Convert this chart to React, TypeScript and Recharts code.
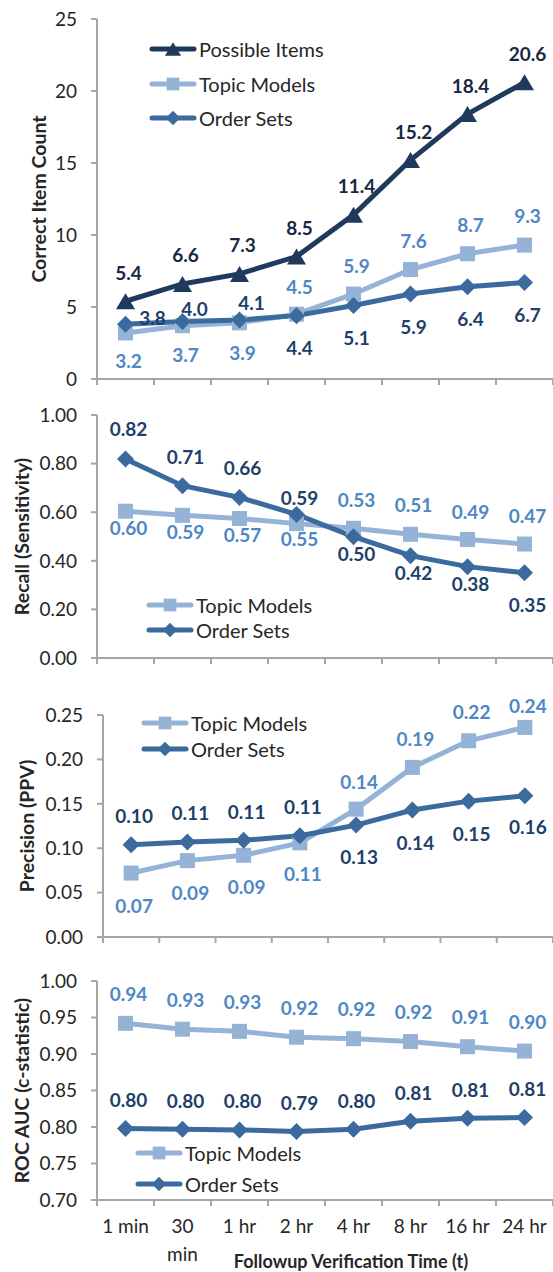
import React from 'react';
import { LineChart, Line, XAxis, YAxis, Legend, LabelList, Label } from 'recharts';

// followup verification windows
const times = ['1 min', '30 min', '1 hr', '2 hr', '4 hr', '8 hr', '16 hr', '24 hr'];

// correct item count
const possibleCount = [5.4, 6.6, 7.3, 8.5, 11.4, 15.2, 18.4, 20.6];
const topicCount = [3.2, 3.7, 3.9, 4.5, 5.9, 7.6, 8.7, 9.3];
const orderCount = [3.8, 4.0, 4.1, 4.4, 5.1, 5.9, 6.4, 6.7];

// recall (sensitivity)
const topicRecall = [0.604, 0.587, 0.574, 0.553, 0.534, 0.509, 0.488, 0.469];
const orderRecall = [0.819, 0.709, 0.661, 0.591, 0.499, 0.421, 0.376, 0.351];

// precision (PPV)
const topicPrecision = [0.072, 0.086, 0.092, 0.106, 0.144, 0.191, 0.221, 0.236];
const orderPrecision = [0.104, 0.107, 0.109, 0.114, 0.126, 0.143, 0.153, 0.159];

// ROC AUC (c-statistic)
const topicAuc = [0.942, 0.934, 0.931, 0.923, 0.921, 0.917, 0.91, 0.904];
const orderAuc = [0.798, 0.797, 0.796, 0.794, 0.797, 0.808, 0.812, 0.813];

const countTicks = [0, 5, 10, 15, 20, 25];
const recallTicks = [0, 0.2, 0.4, 0.6, 0.8, 1.0];
const precisionTicks = [0, 0.05, 0.1, 0.15, 0.2, 0.25];
const aucTicks = [0.7, 0.75, 0.8, 0.85, 0.9, 0.95, 1.0];

const FONT = 'Lato, "Open Sans", sans-serif';
const TEXT = '#262626';
const AXIS = '#A6A6A6';
const CHART_W = 553;

const SERIES: Record<string, any> = {
  possible: { name: 'Possible Items', color: '#1F3A5C', label: '#17293F', shape: 'triangle' },
  topic: { name: 'Topic Models', color: '#95B3D7', label: '#4F87C6', shape: 'square' },
  order: { name: 'Order Sets', color: '#3A6A9E', label: '#1E3F6A', shape: 'diamond' },
};

// label placement (dx, dy from the point), per panel and series
const flat = (v: number) => times.map(() => v);
const OFFSETS: Record<string, Record<string, { dx: number[]; dy: number[] }>> = {
  count: {
    possible: { dx: flat(3), dy: flat(-29) },
    topic: { dx: flat(3), dy: [28, 29, 30, -28, -29, -29, -29, -30] },
    order: { dx: [27, 12, 12, 3, 3, 3, 3, 3], dy: [-7, -13, -17, 32, 32, 32, 32, 32] },
  },
  recall: {
    topic: { dx: flat(3), dy: [16, 16, 16, 15, -29, -30, -28, -29] },
    order: { dx: flat(3), dy: [-30, -29, -30, -17, 17, 17, 17, 32] },
  },
  precision: {
    topic: { dx: flat(3), dy: [32, 32, 31, 31, -28, -29, -29, -22] },
    order: { dx: flat(3), dy: [-29, -29, -29, -29, 31, 32, 32, 31] },
  },
  auc: {
    topic: { dx: flat(3), dy: flat(-30) },
    order: { dx: flat(3), dy: flat(-29) },
  },
};

function drawShape(shape: string, cx: number, cy: number, color: string, s = 1, key?: any) {
  if (shape === 'triangle') {
    const w = 9.5 * s, h = 8 * s;
    return <path key={key} d={`M${cx},${cy - h}L${cx + w},${cy + h}L${cx - w},${cy + h}Z`} fill={color} />;
  }
  if (shape === 'square') {
    const h = 7.5 * s;
    return <rect key={key} x={cx - h} y={cy - h} width={2 * h} height={2 * h} fill={color} />;
  }
  const h = 8.5 * s;
  return <path key={key} d={`M${cx},${cy - h}L${cx + h},${cy}L${cx},${cy + h}L${cx - h},${cy}Z`} fill={color} />;
}

const markerFor = (shape: string, color: string) => (props: any) => {
  const { cx, cy, index } = props;
  if (cx == null || cy == null) return <g key={index} />;
  return drawShape(shape, cx, cy, color, 1, index);
};

const labelFor = (color: string, off: { dx: number[]; dy: number[] }, digits: number) => (props: any) => {
  const { x, y, value, index } = props;
  return (
    <text
      key={index}
      x={x + off.dx[index]}
      y={y + off.dy[index]}
      textAnchor="middle"
      dominantBaseline="central"
      fill={color}
      fontSize={19}
      fontWeight={700}
      fontFamily={FONT}
    >
      {Number(value).toFixed(digits)}
    </text>
  );
};

const legendFor = (rowH: number, keys: string[]) => (props: any) => {
  const payload = [...(props.payload || [])].sort(
    (a: any, b: any) => keys.indexOf(a.dataKey) - keys.indexOf(b.dataKey)
  );
  return (
    <div>
      {payload.map((e: any) => {
        const s = SERIES[e.dataKey];
        return (
          <div key={e.dataKey} style={{ height: rowH, display: 'flex', alignItems: 'center' }}>
            <svg width={48} height={20} style={{ display: 'block' }}>
              <line x1={3} y1={10} x2={45} y2={10} stroke={s.color} strokeWidth={5} strokeLinecap="round" />
              {drawShape(s.shape, 24, 10, s.color, 0.85)}
            </svg>
            <span style={{ fontSize: 20, color: TEXT, fontFamily: FONT, marginLeft: 2, whiteSpace: 'nowrap' }}>
              {s.name}
            </span>
          </div>
        );
      })}
    </div>
  );
};

const yTitle = (text: string, cx: number) => (props: any) => {
  const { viewBox } = props;
  const cy = viewBox.y + viewBox.height / 2;
  return (
    <text
      x={cx}
      y={cy}
      transform={`rotate(-90, ${cx}, ${cy})`}
      textAnchor="middle"
      dominantBaseline="central"
      fill={TEXT}
      fontSize={19.5}
      fontWeight={700}
      fontFamily={FONT}
    >
      {text}
    </text>
  );
};

const xTitle = (props: any) => {
  const { viewBox } = props;
  return (
    <text
      x={viewBox.x + viewBox.width / 2 + 26}
      y={viewBox.y + 68}
      textAnchor="middle"
      fill={TEXT}
      fontSize={18}
      fontWeight={700}
      fontFamily={FONT}
    >
      Followup Verification Time (t)
    </text>
  );
};

// split a category name over lines that fit in one band
let measureCtx: CanvasRenderingContext2D | null = null;
function wrapLabel(label: string, maxW: number): string[] {
  if (!measureCtx) measureCtx = document.createElement('canvas').getContext('2d');
  if (!measureCtx) return [label];
  measureCtx.font = `19px ${FONT}`;
  if (measureCtx.measureText(label).width <= maxW) return [label];
  return label.split(' ');
}

// category tick: tick marks sit on the band edges, the name under the band centre
const bandTick = (band: number, showTimes: boolean) => (props: any) => {
  const { x, y, payload, index } = props;
  const left = x - band / 2;
  const right = x + band / 2;
  const lines = showTimes ? wrapLabel(String(payload.value), 50) : [];
  return (
    <g>
      <line x1={left} y1={y} x2={left} y2={y + 6} stroke={AXIS} strokeWidth={2} />
      {index === times.length - 1 && <line x1={right} y1={y} x2={right} y2={y + 6} stroke={AXIS} strokeWidth={2} />}
      {lines.length > 0 && (
        <text x={x} y={y + 33} textAnchor="middle" fill={TEXT} fontSize={19} fontFamily={FONT}>
          {lines.map((l, i) => (
            <tspan key={i} x={x} dy={i === 0 ? 0 : 28}>
              {l}
            </tspan>
          ))}
        </text>
      )}
    </g>
  );
};

interface PanelProps {
  id: string;
  top: number;
  height: number;
  marginTop: number;
  marginBottom: number;
  axisWidth: number;
  rows: Record<string, number[]>;
  yTicks: number[];
  digits: number;
  tickDigits: number;
  title: string;
  titleX: number;
  legendTop: number;
  legendLeft: number;
  rowH: number;
  showTimes?: boolean;
  axisHeight: number;
}

function Panel(p: PanelProps) {
  const keys = Object.keys(p.rows);
  const data = times.map((t, i) => {
    const row: Record<string, any> = { time: t };
    keys.forEach((k) => (row[k] = p.rows[k][i]));
    return row;
  });
  const band = (CHART_W - p.axisWidth) / times.length;
  return (
    <div style={{ position: 'absolute', left: 0, top: p.top }}>
      <LineChart
        width={CHART_W}
        height={p.height}
        data={data}
        margin={{ top: p.marginTop, right: 0, left: 0, bottom: p.marginBottom }}
      >
        <XAxis
          dataKey="time"
          scale="band"
          height={p.axisHeight}
          stroke={AXIS}
          strokeWidth={2}
          tickLine={false}
          tickSize={0}
          tickMargin={0}
          interval={0}
          tick={bandTick(band, !!p.showTimes)}
        >
          {p.showTimes && <Label content={xTitle} />}
        </XAxis>
        <YAxis
          width={p.axisWidth}
          type="number"
          domain={[p.yTicks[0], p.yTicks[p.yTicks.length - 1]]}
          ticks={p.yTicks}
          interval={0}
          stroke={AXIS}
          strokeWidth={2}
          tickSize={6}
          tickMargin={14}
          tick={{ fill: TEXT, fontSize: 19, fontFamily: FONT }}
          tickFormatter={(v: number) => v.toFixed(p.tickDigits)}
        >
          <Label content={yTitle(p.title, p.titleX)} />
        </YAxis>
        <Legend
          layout="vertical"
          align="center"
          verticalAlign="middle"
          wrapperStyle={{ top: p.legendTop, left: p.legendLeft, width: 'auto' }}
          content={legendFor(p.rowH, keys)}
        />
        {keys.map((k) => {
          const s = SERIES[k];
          return (
            <Line
              key={k}
              dataKey={k}
              name={s.name}
              stroke={s.color}
              strokeWidth={5}
              dot={markerFor(s.shape, s.color)}
              activeDot={false}
              isAnimationActive={false}
            >
              <LabelList dataKey={k} content={labelFor(s.label, OFFSETS[p.id][k], p.digits)} />
            </Line>
          );
        })}
      </LineChart>
    </div>
  );
}

export default function App() {
  return (
    <div style={{ position: 'absolute', left: 0, top: 0, width: CHART_W, height: 1272, background: '#fff' }}>
      <Panel
        id="count"
        top={0}
        height={389}
        marginTop={19}
        marginBottom={0}
        axisHeight={10}
        axisWidth={97}
        rows={{ possible: possibleCount, topic: topicCount, order: orderCount }}
        yTicks={countTicks}
        digits={1}
        tickDigits={0}
        title="Correct Item Count"
        titleX={38}
        legendTop={31.75}
        legendLeft={149}
        rowH={34.5}
      />
      <Panel
        id="recall"
        top={389}
        height={279}
        marginTop={26}
        marginBottom={0}
        axisHeight={10}
        axisWidth={97}
        rows={{ topic: topicRecall, order: orderRecall }}
        yTicks={recallTicks}
        digits={2}
        tickDigits={2}
        title="Recall (Sensitivity)"
        titleX={21}
        legendTop={203.5}
        legendLeft={146}
        rowH={25}
      />
      <Panel
        id="precision"
        top={668}
        height={279}
        marginTop={47}
        marginBottom={0}
        axisHeight={10}
        axisWidth={103}
        rows={{ topic: topicPrecision, order: orderPrecision }}
        yTicks={precisionTicks}
        digits={2}
        tickDigits={2}
        title="Precision (PPV)"
        titleX={26}
        legendTop={42}
        legendLeft={141}
        rowH={26}
      />
      <Panel
        id="auc"
        top={947}
        height={325}
        marginTop={34}
        marginBottom={0}
        axisHeight={72}
        axisWidth={97}
        rows={{ topic: topicAuc, order: orderAuc }}
        yTicks={aucTicks}
        digits={2}
        tickDigits={2}
        title="ROC AUC (c-statistic)"
        titleX={21}
        legendTop={190.5}
        legendLeft={135}
        rowH={31}
        showTimes
      />
    </div>
  );
}
